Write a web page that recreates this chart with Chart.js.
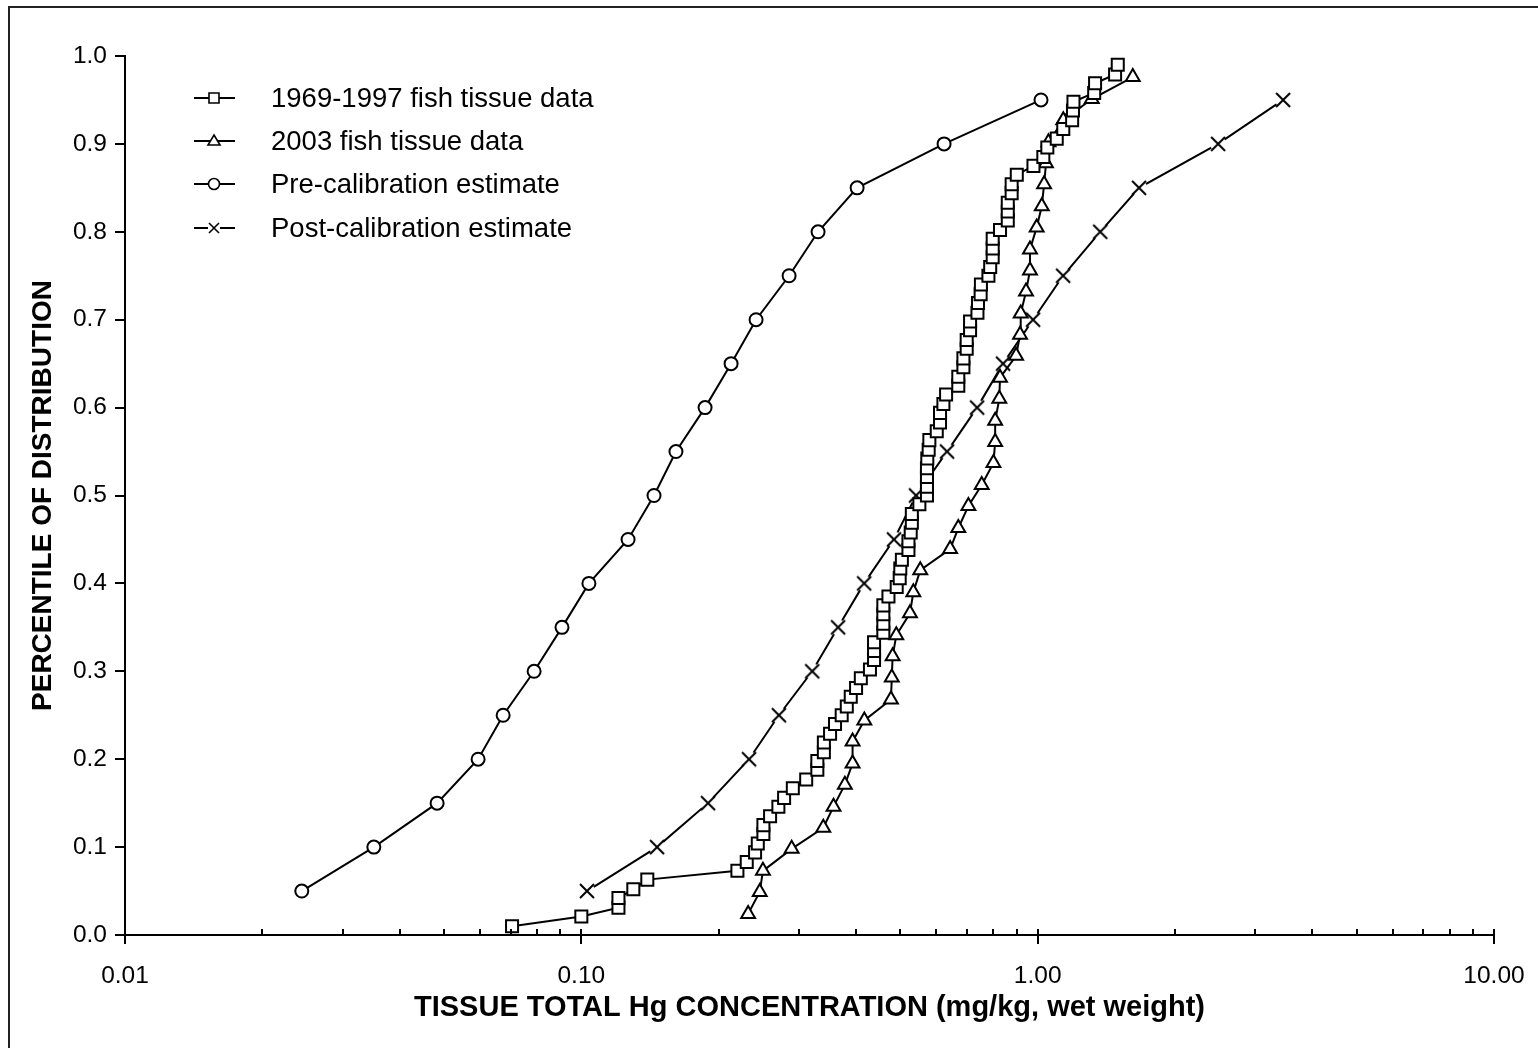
<!DOCTYPE html>
<html>
<head>
<meta charset="utf-8">
<script src="https://cdn.jsdelivr.net/npm/chart.js@4.4.0/dist/chart.umd.min.js"></script>
<style>
html,body{margin:0;padding:0;background:#fff;}
#wrap{width:1538px;height:1048px;position:relative;overflow:hidden;}
canvas{display:block;}
</style>
</head>
<body>
<div id="wrap"><canvas id="c" width="1538" height="1048"></canvas></div>
<script>
// ---------- data ----------
const seriesLabels = [
  "1969-1997 fish tissue data",
  "2003 fish tissue data",
  "Pre-calibration estimate",
  "Post-calibration estimate"
];

const historicX = [0.0705, 0.100, 0.1206, 0.1206, 0.130, 0.1395, 0.2198, 0.2304, 0.2403, 0.2436,
  0.2506, 0.2506, 0.2592, 0.2703, 0.2782, 0.2907, 0.311, 0.329, 0.329, 0.340,
  0.340, 0.3508, 0.3597, 0.372, 0.3817, 0.3894, 0.400, 0.4097, 0.429, 0.438,
  0.438, 0.438, 0.459, 0.459, 0.459, 0.459, 0.471, 0.491, 0.4985, 0.500,
  0.504, 0.521, 0.521, 0.527, 0.530, 0.530, 0.5505, 0.572, 0.572, 0.572,
  0.572, 0.573, 0.577, 0.579, 0.601, 0.611, 0.611, 0.6215, 0.630, 0.670,
  0.670, 0.6875, 0.6875, 0.699, 0.699, 0.711, 0.711, 0.738, 0.740, 0.750,
  0.751, 0.780, 0.787, 0.797, 0.797, 0.797, 0.827, 0.860, 0.860, 0.860,
  0.877, 0.877, 0.900, 0.979, 1.029, 1.050, 1.101, 1.138, 1.190, 1.195,
  1.198, 1.330, 1.336, 1.478, 1.498];
const historicY = [0.010, 0.021, 0.031, 0.042, 0.052, 0.063, 0.073, 0.083, 0.094, 0.104,
  0.115, 0.125, 0.135, 0.146, 0.156, 0.167, 0.177, 0.188, 0.198, 0.208,
  0.219, 0.229, 0.240, 0.250, 0.260, 0.271, 0.281, 0.292, 0.302, 0.313,
  0.323, 0.333, 0.344, 0.354, 0.365, 0.375, 0.385, 0.396, 0.406, 0.417,
  0.427, 0.438, 0.448, 0.458, 0.469, 0.479, 0.490, 0.500, 0.510, 0.521,
  0.531, 0.542, 0.552, 0.563, 0.573, 0.583, 0.594, 0.604, 0.615, 0.625,
  0.635, 0.646, 0.656, 0.667, 0.677, 0.688, 0.698, 0.708, 0.719, 0.729,
  0.740, 0.750, 0.760, 0.771, 0.781, 0.792, 0.802, 0.813, 0.823, 0.833,
  0.844, 0.854, 0.865, 0.875, 0.885, 0.896, 0.906, 0.917, 0.927, 0.938,
  0.948, 0.958, 0.969, 0.979, 0.990];

const recentX = [0.232, 0.246, 0.250, 0.289, 0.339, 0.357, 0.378, 0.393, 0.393, 0.417,
  0.477, 0.479, 0.481, 0.490, 0.525, 0.534, 0.553, 0.643, 0.670, 0.705,
  0.754, 0.800, 0.807, 0.807, 0.824, 0.827, 0.897, 0.915, 0.918, 0.943,
  0.962, 0.962, 0.995, 1.021, 1.033, 1.043, 1.056, 1.138, 1.314, 1.616];
const recentY = [0.024, 0.049, 0.073, 0.098, 0.122, 0.146, 0.171, 0.195, 0.220, 0.244,
  0.268, 0.293, 0.317, 0.341, 0.366, 0.390, 0.415, 0.439, 0.463, 0.488,
  0.512, 0.537, 0.561, 0.585, 0.610, 0.634, 0.659, 0.683, 0.707, 0.732,
  0.756, 0.780, 0.805, 0.829, 0.854, 0.878, 0.902, 0.927, 0.951, 0.976];

const preCalX = [0.0244, 0.0351, 0.0483, 0.0594, 0.0674, 0.0788, 0.0907, 0.1039, 0.1266, 0.1443,
  0.1612, 0.1867, 0.2129, 0.2415, 0.2853, 0.3302, 0.4021, 0.6236, 1.017];
const preCalY = [0.05, 0.10, 0.15, 0.20, 0.25, 0.30, 0.35, 0.40, 0.45, 0.50,
  0.55, 0.60, 0.65, 0.70, 0.75, 0.80, 0.85, 0.90, 0.95];

const postCalX = [0.1029, 0.1465, 0.1895, 0.2331, 0.271, 0.3206, 0.3653, 0.4166, 0.4843, 0.5414,
  0.633, 0.7366, 0.8397, 0.977, 1.137, 1.371, 1.668, 2.485, 3.45];
const postCalY = [0.05, 0.10, 0.15, 0.20, 0.25, 0.30, 0.35, 0.40, 0.45, 0.50,
  0.55, 0.60, 0.65, 0.70, 0.75, 0.80, 0.85, 0.90, 0.95];

const xMajorTicks = [0.01, 0.1, 1, 10];
const xMinorTicks = [0.02, 0.03, 0.04, 0.05, 0.06, 0.07, 0.08, 0.09,
  0.2, 0.3, 0.4, 0.5, 0.6, 0.7, 0.8, 0.9,
  2, 3, 4, 5, 6, 7, 8, 9];

const xTitle = "TISSUE TOTAL Hg CONCENTRATION (mg/kg, wet weight)";
const yTitle = "PERCENTILE OF DISTRIBUTION";

// ---------- helpers ----------
const FONT = "'Liberation Sans', Arial, sans-serif";
function pts(xs, ys) { return xs.map((x, i) => ({x: x, y: ys[i]})); }

function makeCrossImage(size, arm, clearR) {
  const cv = document.createElement('canvas');
  cv.width = size; cv.height = size;
  const c = cv.getContext('2d');
  const m = size / 2;
  c.fillStyle = '#fff';
  c.beginPath(); c.arc(m, m, clearR, 0, Math.PI * 2); c.fill();
  c.strokeStyle = '#000'; c.lineWidth = 2;
  c.beginPath();
  c.moveTo(m - arm, m - arm); c.lineTo(m + arm, m + arm);
  c.moveTo(m + arm, m - arm); c.lineTo(m - arm, m + arm);
  c.stroke();
  return cv;
}
const crossImg = makeCrossImage(22, 7, 8);

const markerStyles = ['rect', 'triangle', 'circle', crossImg];
const markerRadius = [8.5, 8, 6.5, 8];

function baseDataset(label, data, idx) {
  return {
    label: label,
    data: data,
    showLine: true,
    borderColor: '#000',
    borderWidth: 2,
    tension: 0,
    fill: false,
    pointStyle: markerStyles[idx],
    pointRadius: markerRadius[idx],
    pointHoverRadius: markerRadius[idx],
    pointBorderWidth: 2,
    pointBorderColor: '#000',
    pointBackgroundColor: '#fff'
  };
}

// ---------- plugins ----------
const framePlugin = {
  id: 'frame',
  beforeDraw(chart) {
    const ctx = chart.ctx;
    ctx.save();
    ctx.fillStyle = '#fff';
    ctx.fillRect(0, 0, chart.width, chart.height);
    ctx.strokeStyle = '#222';
    ctx.lineWidth = 2;
    ctx.strokeRect(9, 7, chart.width + 40, chart.height + 40);
    ctx.restore();
  }
};

const xTickPlugin = {
  id: 'xticks',
  afterDraw(chart) {
    const xs = chart.scales.x;
    const y0 = chart.chartArea.bottom;
    const ctx = chart.ctx;
    ctx.save();
    ctx.strokeStyle = '#000';
    ctx.lineWidth = 2;
    ctx.beginPath();
    xMajorTicks.forEach(v => {
      const px = Math.round(xs.getPixelForValue(v));
      ctx.moveTo(px, y0 - 6); ctx.lineTo(px, y0 + 9);
    });
    xMinorTicks.forEach(v => {
      const px = Math.round(xs.getPixelForValue(v));
      ctx.moveTo(px, y0 - 6); ctx.lineTo(px, y0);
    });
    ctx.stroke();
    ctx.restore();
  }
};

function drawLegendMarker(ctx, kind, x, y) {
  ctx.save();
  ctx.strokeStyle = '#000';
  ctx.fillStyle = '#fff';
  ctx.lineWidth = 1.6;
  ctx.beginPath();
  if (kind === 0) {
    ctx.rect(x - 5, y - 5, 10, 10);
    ctx.fill(); ctx.stroke();
  } else if (kind === 1) {
    ctx.moveTo(x, y - 6); ctx.lineTo(x + 6, y + 4); ctx.lineTo(x - 6, y + 4); ctx.closePath();
    ctx.fill(); ctx.stroke();
  } else if (kind === 2) {
    ctx.arc(x, y, 5.5, 0, Math.PI * 2);
    ctx.fill(); ctx.stroke();
  } else {
    ctx.fillRect(x - 6, y - 6, 12, 12);
    ctx.moveTo(x - 5, y - 5); ctx.lineTo(x + 5, y + 5);
    ctx.moveTo(x + 5, y - 5); ctx.lineTo(x - 5, y + 5);
    ctx.stroke();
  }
  ctx.restore();
}

const legendPlugin = {
  id: 'customLegend',
  afterDraw(chart) {
    const ctx = chart.ctx;
    const rowY = [98, 141, 184, 228];
    ctx.save();
    ctx.font = "27.5px " + FONT;
    ctx.textBaseline = 'middle';
    ctx.textAlign = 'left';
    ctx.fillStyle = '#000';
    chart.data.datasets.forEach((ds, i) => {
      const y = rowY[i];
      ctx.strokeStyle = '#000';
      ctx.lineWidth = 2;
      ctx.beginPath();
      ctx.moveTo(194, y); ctx.lineTo(235, y);
      ctx.stroke();
      drawLegendMarker(ctx, i, 214, y);
      ctx.fillText(ds.label, 271, y + 1);
    });
    ctx.restore();
  }
};

// ---------- chart ----------
const chart = new Chart(document.getElementById('c'), {
  type: 'scatter',
  data: {
    datasets: [
      baseDataset(seriesLabels[0], pts(historicX, historicY), 0),
      baseDataset(seriesLabels[1], pts(recentX, recentY), 1),
      baseDataset(seriesLabels[2], pts(preCalX, preCalY), 2),
      baseDataset(seriesLabels[3], pts(postCalX, postCalY), 3)
    ]
  },
  options: {
    responsive: false,
    animation: false,
    devicePixelRatio: 1,
    layout: { padding: { left: 0, right: 44, top: 56, bottom: 0 } },
    plugins: {
      legend: { display: false },
      tooltip: { enabled: false },
      title: { display: false }
    },
    scales: {
      x: {
        type: 'logarithmic',
        position: 'bottom',
        min: 0.01,
        max: 10,
        afterBuildTicks(scale) { scale.ticks = xMajorTicks.map(v => ({value: v})); },
        afterFit(scale) {
          scale.height = 113;
          scale.paddingLeft = 0;
          scale.paddingRight = 0;
        },
        grid: { display: false },
        border: { display: true, color: '#000', width: 2 },
        ticks: {
          color: '#000',
          font: { family: FONT, size: 24.5 },
          padding: 19,
          maxRotation: 0,
          autoSkip: false,
          callback: (v) => Number(v).toFixed(2)
        },
        title: {
          display: true,
          text: xTitle,
          color: '#000',
          font: { family: FONT, size: 29, weight: 'bold' },
          padding: { top: 0, bottom: 23 }
        }
      },
      y: {
        type: 'linear',
        position: 'left',
        min: 0,
        max: 1,
        afterFit(scale) {
          scale.width = 125;
          scale.paddingTop = 0;
          scale.paddingBottom = 0;
        },
        grid: {
          display: true,
          drawOnChartArea: false,
          drawTicks: true,
          tickLength: 10,
          color: '#000',
          lineWidth: 2
        },
        border: { display: true, color: '#000', width: 2 },
        ticks: {
          stepSize: 0.1,
          color: '#000',
          font: { family: FONT, size: 24.5 },
          padding: 8,
          callback: (v) => Number(v).toFixed(1)
        },
        title: {
          display: true,
          text: yTitle,
          color: '#000',
          font: { family: FONT, size: 28, weight: 'bold' },
          padding: { top: 26, bottom: 0 }
        }
      }
    }
  },
  plugins: [framePlugin, xTickPlugin, legendPlugin]
});
</script>
</body>
</html>
